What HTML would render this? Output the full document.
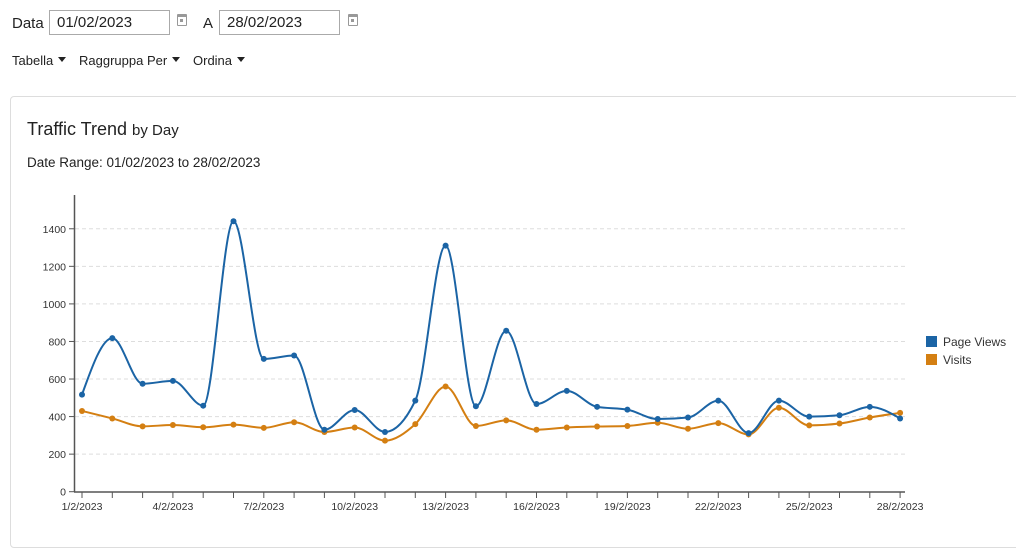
<!DOCTYPE html>
<html><head><meta charset="utf-8"><style>
body{margin:0;width:1016px;height:528px;overflow:hidden;background:#fff;font-family:"Liberation Sans",sans-serif;color:#222;position:relative}
.abs{position:absolute;white-space:nowrap}
.inp{position:absolute;border:1px solid #aaa;height:25px;box-sizing:border-box;font-size:15px;line-height:23px;padding-left:7px;color:#222}
.cal{position:absolute;width:10px;height:12px;box-sizing:border-box;border:1.5px solid #999;border-top-width:3px;border-radius:1px}
.cal:after{content:"";position:absolute;left:2px;top:2px;width:3px;height:3px;background:#999}
.car{display:inline-block;border-left:4px solid transparent;border-right:4px solid transparent;border-top:5px solid #222;margin-left:5px;vertical-align:3px}
.card{position:absolute;left:10px;top:96px;width:1020px;height:450px;border:1px solid #ddd;border-radius:4px}
</style></head><body>
<div class="abs" style="left:12px;top:15px;font-size:15px">Data</div>
<div class="inp" style="left:49px;top:10px;width:121px">01/02/2023</div>
<div class="cal" style="left:177px;top:14px"></div>
<div class="abs" style="left:203px;top:15px;font-size:15px">A</div>
<div class="inp" style="left:219px;top:10px;width:121px">28/02/2023</div>
<div class="cal" style="left:348px;top:14px"></div>
<div class="abs" style="left:12px;top:53px;font-size:13px">Tabella<span class="car"></span></div>
<div class="abs" style="left:79px;top:53px;font-size:13px">Raggruppa Per<span class="car"></span></div>
<div class="abs" style="left:193px;top:53px;font-size:13px">Ordina<span class="car"></span></div>
<div class="card"></div>
<div class="abs" style="left:27px;top:119px;font-size:18px">Traffic Trend <span style="font-size:15px">by Day</span></div>
<div class="abs" style="left:27px;top:155px;font-size:13.5px">Date Range: 01/02/2023 to 28/02/2023</div>
<svg id="s" width="1016" height="528" style="position:absolute;left:0;top:0" font-family="Liberation Sans, sans-serif" font-size="10.5" fill="#333"></svg>
<script>
var pv=[517,818,575,590,458,1440,707,725,330,435,318,485,1310,455,857,467,537,452,437,387,395,485,312,485,400,407,452,390];
var vi=[430,390,348,355,343,357,340,370,318,342,272,360,560,350,380,330,342,347,350,367,335,365,305,447,353,363,395,420];
function X(i){return 82+i*30.3}function Y(v){return 491.7-v*0.1878}
var h='';
for(var k=1;k<=7;k++){var y=Y(k*200);h+='<line x1="75" x2="905" y1="'+y+'" y2="'+y+'" stroke="#ddd" stroke-dasharray="4,3"/>';}
for(var k=0;k<=7;k++){var y=Y(k*200);h+='<line x1="69" x2="75" y1="'+y+'" y2="'+y+'" stroke="#555"/><text x="66" y="'+(y+4)+'" text-anchor="end">'+(k*200)+'</text>';}
h+='<line x1="74.5" x2="74.5" y1="195" y2="492" stroke="#555" stroke-width="1.5"/><line x1="74" x2="905" y1="492" y2="492" stroke="#555" stroke-width="1.5"/>';
for(var i=0;i<28;i++){var x=X(i);h+='<line x1="'+x+'" x2="'+x+'" y1="492" y2="498" stroke="#555"/>';if(i%3==0)h+='<text x="'+x+'" y="510" text-anchor="middle">'+(i+1)+'/2/2023</text>';}
function sign(x){return x<0?-1:1}
function path(d){var p=d.map(function(v,i){return[X(i),Y(v)]});var n=p.length,t=[];
for(var i=0;i<n;i++){
 if(i==0||i==n-1)t.push(null);else{var h0=p[i][0]-p[i-1][0],h1=p[i+1][0]-p[i][0],s0=(p[i][1]-p[i-1][1])/h0,s1=(p[i+1][1]-p[i][1])/h1,pp=(s0*h1+s1*h0)/(h0+h1);
 t.push((sign(s0)+sign(s1))*Math.min(Math.abs(s0),Math.abs(s1),0.5*Math.abs(pp))||0);}}
var hh=p[1][0]-p[0][0];t[0]=(3*(p[1][1]-p[0][1])/hh-t[1])/2;t[n-1]=(3*(p[n-1][1]-p[n-2][1])/hh-t[n-2])/2;
var s='M'+p[0];for(var i=0;i<n-1;i++){var dx=(p[i+1][0]-p[i][0])/3;s+='C'+(p[i][0]+dx)+','+(p[i][1]+dx*t[i])+' '+(p[i+1][0]-dx)+','+(p[i+1][1]-dx*t[i+1])+' '+p[i+1];}return s}
function ser(d,c){var s='<path d="'+path(d)+'" fill="none" stroke="'+c+'" stroke-width="2"/>';d.forEach(function(v,i){s+='<circle cx="'+X(i)+'" cy="'+Y(v)+'" r="3" fill="'+c+'"/>'});return s}
h+=ser(vi,'#d47f12')+ser(pv,'#1b64a5');
h+='<rect x="926" y="336" width="11" height="11" fill="#1b64a5"/><text x="943" y="346" font-size="12">Page Views</text>';
h+='<rect x="926" y="354" width="11" height="11" fill="#d47f12"/><text x="943" y="364" font-size="12">Visits</text>';
document.getElementById('s').innerHTML=h;
</script>
</body></html>
